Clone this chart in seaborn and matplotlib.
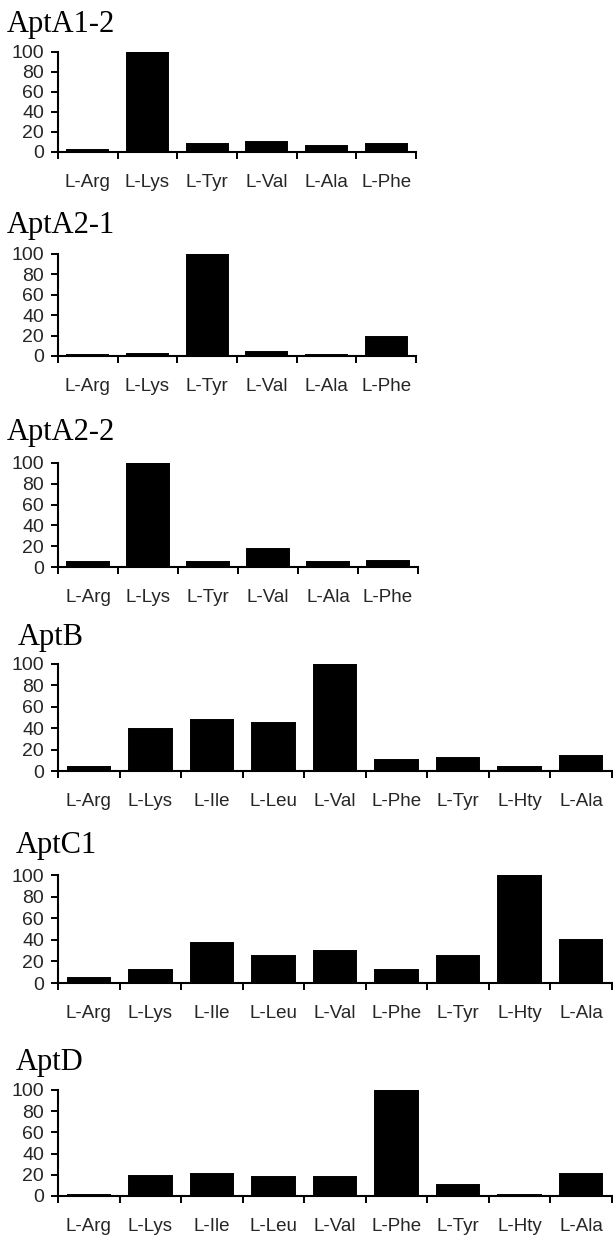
import numpy as np
import pandas as pd
import matplotlib
matplotlib.use("Agg")
import matplotlib.pyplot as plt
import seaborn as sns

# ---- data ----
cats6 = ["L-Arg", "L-Lys", "L-Tyr", "L-Val", "L-Ala", "L-Phe"]
cats9 = ["L-Arg", "L-Lys", "L-Ile", "L-Leu", "L-Val", "L-Phe", "L-Tyr", "L-Hty", "L-Ala"]

aptA1_2 = [2, 100, 8, 10, 6, 8]
aptA2_1 = [1, 2, 100, 4, 1, 19]
aptA2_2 = [5, 100, 5, 17, 5, 6]
aptB = [4, 39, 48, 45, 100, 10, 12, 4, 14]
aptC1 = [5, 12, 37, 25, 30, 12, 25, 100, 40]
aptD = [1, 19, 21, 18, 18, 100, 10, 1, 21]

titles = ["AptA1-2", "AptA2-1", "AptA2-2", "AptB", "AptC1", "AptD"]
yticks = [0, 20, 40, 60, 80, 100]

panels = [
    (titles[0], cats6, aptA1_2),
    (titles[1], cats6, aptA2_1),
    (titles[2], cats6, aptA2_2),
    (titles[3], cats9, aptB),
    (titles[4], cats9, aptC1),
    (titles[5], cats9, aptD),
]

# ---- layout (pixels) ----
W, H = 613, 1235
boxes = [  # x0, x1, ytop, ybot
    (58, 416, 52, 152),
    (58, 416, 254, 356),
    (58, 418, 463, 567),
    (58, 612, 664, 771),
    (58, 612, 875, 983),
    (58, 612, 1090, 1196),
]
title_pos = [(7, 32), (7, 233), (7, 440), (18, 645), (16, 853), (16, 1070)]

sns.set_style("ticks")
plt.rcParams["font.family"] = ["Liberation Sans", "DejaVu Sans"]

fig = plt.figure(figsize=(W / 100, H / 100), dpi=100)

for (title, cats, vals), (x0, x1, yt, yb), (tx, ty) in zip(panels, boxes, title_pos):
    ax = fig.add_axes([x0 / W, 1 - yb / H, (x1 - x0) / W, (yb - yt) / H])
    df = pd.DataFrame({"cat": cats, "val": vals})
    sns.barplot(data=df, x="cat", y="val", order=cats, color="black",
                saturation=1, width=0.69, ax=ax, edgecolor="black", linewidth=1.4)
    n = len(cats)
    ax.set_xlim(-0.5, n - 0.5)
    ax.set_ylim(0, 100)
    ax.set_xlabel("")
    ax.set_ylabel("")
    ax.set_yticks(yticks)
    ax.set_yticklabels([str(v) for v in yticks], fontsize=14)
    ax.set_xticks(np.arange(n + 1) - 0.5)
    ax.set_xticklabels([""] * (n + 1))
    ax.set_xticks(np.arange(n), minor=True)
    ax.set_xticklabels(cats, minor=True, fontsize=13.5)
    ax.tick_params(axis="x", which="major", length=5, width=1.4, direction="out", color="black")
    ax.tick_params(axis="x", which="minor", length=0, pad=16)
    ax.tick_params(axis="y", length=5, width=1.4, direction="out", pad=5, color="black")
    for s in ["top", "right"]:
        ax.spines[s].set_visible(False)
    for s in ["left", "bottom"]:
        ax.spines[s].set_linewidth(1.5)
        ax.spines[s].set_color("black")
    ax.set_facecolor("white")
    fig.text(tx / W, 1 - ty / H, title, family=["Liberation Serif", "DejaVu Serif"],
             fontsize=22, ha="left", va="baseline", color="black")

fig.savefig("out.png", dpi=100, facecolor="white")
